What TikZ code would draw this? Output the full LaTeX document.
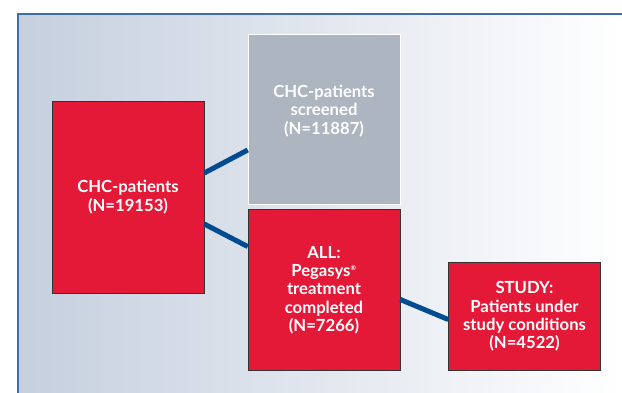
\documentclass[tikz,border=0pt]{standalone}
\usepackage{fontspec}
\setmainfont{Lato}
\usetikzlibrary{positioning}
\definecolor{boxred}{RGB}{228,25,55}
\definecolor{boxgray}{RGB}{173,181,193}
\definecolor{linkblue}{RGB}{0,75,145}
\definecolor{frameblue}{RGB}{60,110,175}
\definecolor{bgleft}{RGB}{197,207,222}
\tikzstyle{block} = [draw=black!80, fill=boxred, rectangle, text=white, align=center, minimum width=114pt, inner sep=2pt, font=\fontsize{12.5}{13.7}\selectfont\bfseries]
\tikzstyle{greyblock} = [block, draw=white, fill=boxgray, text depth=14pt]
\tikzstyle{link} = [draw=linkblue, line width=3.75pt]

\begin{document}
\begin{tikzpicture}[x=0.75pt, y=-0.75pt]
    \useasboundingbox (0,0) rectangle (622,393);
    \shade[left color=bgleft, right color=white] (18,14) rectangle (622,393);
    \draw[frameblue, line width=0.9pt] (18,393) -- (18,14) -- (622,14);
    \node[block, minimum height=144pt] (chc) at (128,197) {CHC-patients\\(N=19153)};
    \node[greyblock, minimum height=127.5pt] (scr) at (324,119) {CHC-patients\\screened\\(N=11887)};
    \node[block, minimum height=120.75pt, below=3.75pt of scr.south west, anchor=north west] (all) {ALL:\\Pegasys\textsuperscript{\tiny ®}\\treatment\\completed\\(N=7266)};
    \node[block, minimum height=81pt, right=36pt of all.south east, anchor=south west] (study) {STUDY:\\Patients under\\study conditions\\(N=4522)};
    \draw[link] ([yshift=18pt]chc.east) -- ([yshift=-23.25pt]scr.west);
    \draw[link] ([yshift=-20.25pt]chc.east) -- ([yshift=32.6pt]all.west);
    \draw[link] ([yshift=-7.1pt]all.east) -- ([yshift=-2.25pt]study.west);
\end{tikzpicture}
\end{document}
